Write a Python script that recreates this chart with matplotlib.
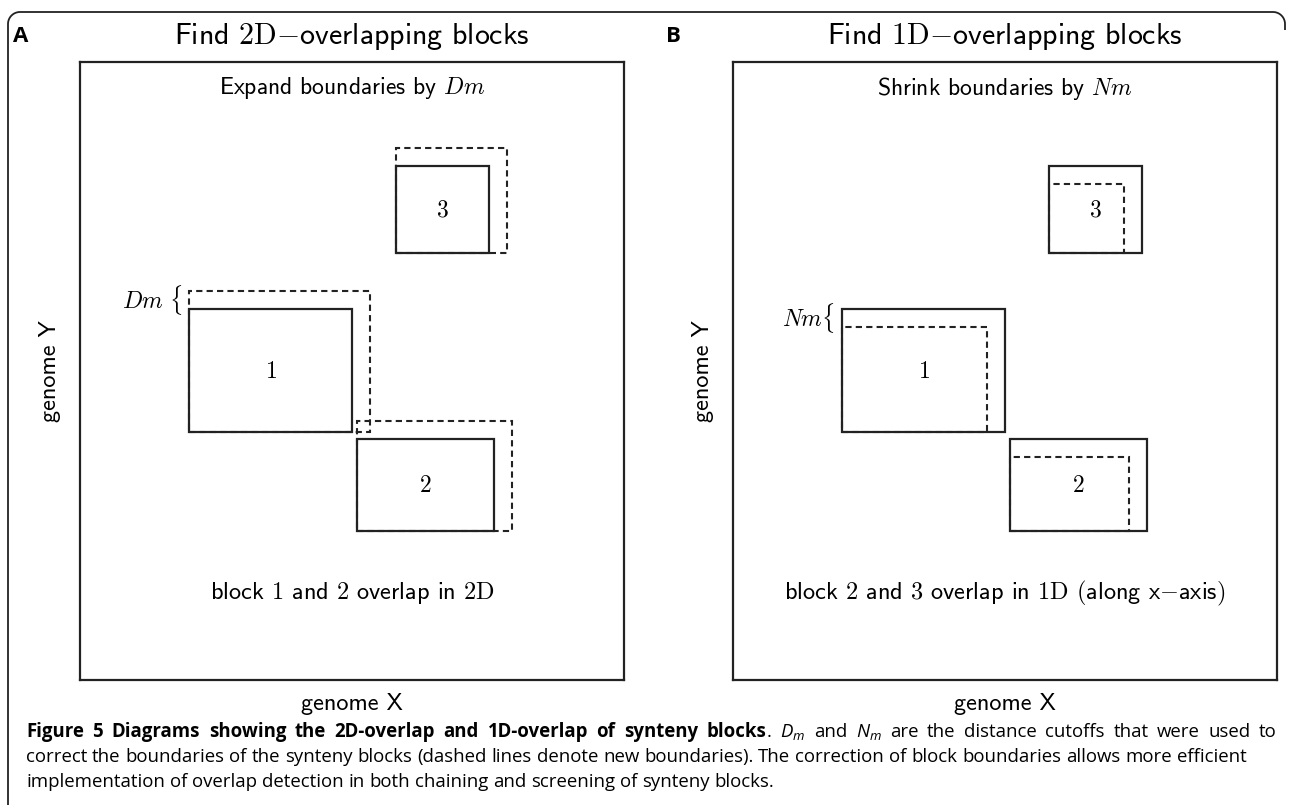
import numpy as np
import matplotlib
matplotlib.use('Agg')
import matplotlib.pyplot as plt
from matplotlib.patches import Rectangle

plt.rcParams['mathtext.fontset'] = 'custom'
plt.rcParams['mathtext.rm'] = 'Open Sans'
plt.rcParams['mathtext.it'] = 'Open Sans:italic'

# blocks (genome coordinates inside each panel), same blocks in both panels
block_ids = ['1', '2', '3']
block_x = [109, 277, 316]
block_y = [248, 149, 427]
block_w = [163, 137, 93]
block_h = [123, 92, 87]
dm = 18   # expansion in panel A
nm = 18   # shrink in panel B

panel_letters = ['A', 'B']
panel_titles = [r'Find $\mathrm{2D}{-}$overlapping blocks', r'Find $\mathrm{1D}{-}$overlapping blocks']
panel_subtitles = [r'Expand boundaries by $Dm$', r'Shrink boundaries by $Nm$']
panel_notes = [r'block $1$ and $2$ overlap in $\mathrm{2D}$',
               r'block $2$ and $3$ overlap in $\mathrm{1D}$ $\mathrm{(}$along x${-}$axis$\mathrm{)}$']
panel_marks = [r'$Dm\ \{$', r'$Nm\{$']
panel_deltas = [dm, -nm]

caption_lines = [
    [('Figure 5 Diagrams showing the 2D-overlap and 1D-overlap of synteny blocks', 'bold'),
     ('. $D_m$ and $N_m$ are the distance cutoffs that were used to', 'normal')],
    [('correct the boundaries of the synteny blocks (dashed lines denote new boundaries). '
      'The correction of block boundaries allows more efficient', 'normal')],
    [('implementation of overlap detection in both chaining and screening of synteny blocks.', 'normal')],
]

W, H = 1290, 805
fig = plt.figure(figsize=(W / 100, H / 100), dpi=100)
bg = fig.add_axes([0, 0, 1, 1], zorder=0)
bg.set_xlim(0, W)
bg.set_ylim(H, 0)
bg.axis('off')

ink = '#222222'

# outer frame: rounded top corners, left side runs to bottom
r = 12
t = np.linspace(0, np.pi / 2, 20)
fx = np.concatenate([[8], 8 + r - r * np.cos(t), 1285 - r + r * np.sin(t), [1285]])
fy = np.concatenate([[H], 12 + r - r * np.sin(t), 12 + r - r * np.cos(t), [30]])
bg.plot(fx, fy, color=ink, lw=1.3, solid_capstyle='butt')

box_left = [80, 733]
box_top, box_w, box_h = 62, 544, 618

for i in range(2):
    ax = fig.add_axes([box_left[i] / W, (H - box_top - box_h) / H, box_w / W, box_h / H], zorder=1)
    ax.set_facecolor('none')
    ax.set_xlim(0, box_w)
    ax.set_ylim(0, box_h)
    ax.set_xticks([])
    ax.set_yticks([])
    for s in ax.spines.values():
        s.set_linewidth(1.6)
        s.set_color(ink)
    d = panel_deltas[i]
    for bid, x, y, w, h in zip(block_ids, block_x, block_y, block_w, block_h):
        ax.add_patch(Rectangle((x, y), w, h, fill=False, ec=ink, lw=1.6))
        ax.add_patch(Rectangle((x, y), w + d, h + d, fill=False, ec=ink, lw=1.5,
                               ls=(0, (3, 2))))
        ax.text(x + w / 2, y + h / 2, '$' + bid + '$', ha='center', va='center',
                fontsize=17, math_fontfamily='cm')

    cx = box_left[i] + box_w / 2
    bg.text(box_left[i] - 67, 37, panel_letters[i], ha='left', va='center',
            fontsize=16, fontweight='bold', family='Open Sans')
    bg.text(cx, 37, panel_titles[i], ha='center', va='center', fontsize=21.5,
            family='cmss10', math_fontfamily='cm')
    bg.text(cx, 88, panel_subtitles[i], ha='center', va='center', fontsize=17,
            family='cmss10', math_fontfamily='cm')
    bg.text(cx, 593, panel_notes[i], ha='center', va='center', fontsize=17.5,
            family='cmss10', math_fontfamily='cm')
    bg.text(cx, 704, 'genome X', ha='center', va='center', fontsize=17.5,
            family='cmss10')
    bg.text(box_left[i] - 30, 371, 'genome Y', ha='center', va='center', fontsize=17.5,
            family='cmss10', rotation=90)

# "Dm {" and "Nm{" marks next to block 1
bg.text(box_left[0] + block_x[0] - 7, box_top + box_h - block_y[0] - block_h[0] - 9,
        panel_marks[0], ha='right', va='center', fontsize=17, math_fontfamily='cm')
bg.text(box_left[1] + block_x[0] - 7, box_top + box_h - block_y[0] - block_h[0] + 9,
        panel_marks[1], ha='right', va='center', fontsize=17, math_fontfamily='cm')

# caption: first line justified, the rest ragged right
renderer = fig.canvas.get_renderer()
cap_x0, cap_x1 = 26, 1277
cap_y = [732, 757, 782]

# size the caption so the second line runs to x = 1248 as in the page layout
probe = bg.text(0, 0, caption_lines[1][0][0], fontsize=10, family='Open Sans')
cap_size = 10 * (1248 - cap_x0) / probe.get_window_extent(renderer).width
probe.remove()


def words_of(segments):
    words = []
    for text, weight in segments:
        parts = text.split(' ')
        for k, p in enumerate(parts):
            if k == 0 and words and not text.startswith(' '):
                words[-1].append((p, weight))
            elif p:
                words.append([(p, weight)])
    return words


probe = bg.text(0, 0, 'x x', fontsize=cap_size, family='Open Sans')
probe2 = bg.text(0, 0, 'xx', fontsize=cap_size, family='Open Sans')
space_w = probe.get_window_extent(renderer).width - probe2.get_window_extent(renderer).width
probe.remove()
probe2.remove()

for li, segs in enumerate(caption_lines):
    words = words_of(segs)
    placed = []
    total = 0
    for word in words:
        pieces = []
        ww = 0
        for txt, weight in word:
            tt = bg.text(0, cap_y[li], txt, fontsize=cap_size, family='Open Sans',
                         fontweight=weight, ha='left', va='center',
                         math_fontfamily='custom')
            pw = tt.get_window_extent(renderer).width
            pieces.append((tt, pw))
            ww += pw
        placed.append(pieces)
        total += ww
    gap = space_w
    if li == 0:
        gap = max((cap_x1 - cap_x0 - total) / (len(words) - 1), 0.6 * space_w)
    x = cap_x0
    for pieces in placed:
        for tt, pw in pieces:
            tt.set_x(x)
            x += pw
        x += gap

fig.savefig('out.png', dpi=100)
